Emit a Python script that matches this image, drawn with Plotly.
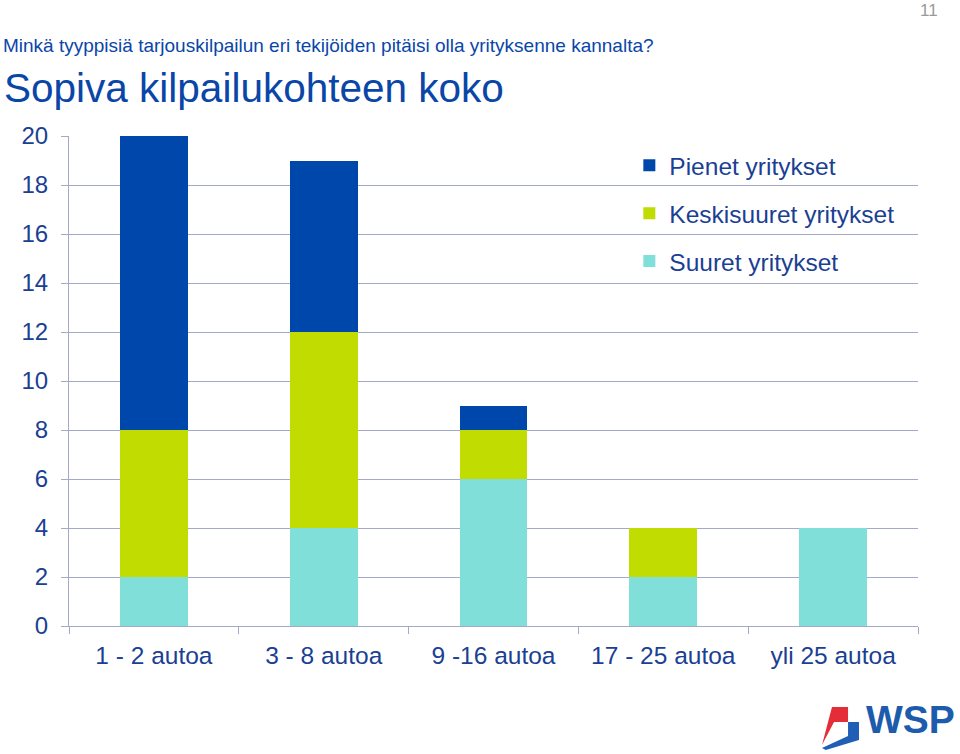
import plotly.graph_objects as go

categories = ['1 - 2 autoa', '3 - 8 autoa', '9 -16 autoa', '17 - 25 autoa', 'yli 25 autoa']
suuret = [2, 4, 6, 2, 4]
keskisuuret = [6, 8, 2, 2, 0]
pienet = [12, 7, 1, 0, 0]

# (name, values, colour, legend rank) - stacked bottom to top
series = [
    ('Suuret yritykset', suuret, '#80dfd8', 3),
    ('Keskisuuret yritykset', keskisuuret, '#c0dc00', 2),
    ('Pienet yritykset', pienet, '#0047ab', 1),
]

text_blue = '#1b3f93'
title_blue = '#0a46a8'
grid_col = '#a3aac8'

fig = go.Figure()
for i, (name, vals, col, rank) in enumerate(series):
    fig.add_trace(go.Bar(x=categories, y=vals, name=name, marker_color=col,
                         marker_line_width=0, legendgroup='g%d' % i, legendrank=rank))

fig.update_layout(
    barmode='stack', bargap=0.6,
    width=960, height=754,
    margin=dict(l=69, r=42, t=136, b=128),
    plot_bgcolor='white', paper_bgcolor='white',
    font=dict(family='Arial, Liberation Sans, sans-serif', color=text_blue, size=23),
    legend=dict(x=0.66, y=0.986, xanchor='left', yanchor='top',
                traceorder='grouped', tracegroupgap=13,
                bgcolor='rgba(0,0,0,0)', font=dict(size=24.5, color=text_blue)),
    showlegend=True,
)
fig.update_yaxes(range=[0, 20], dtick=2, showgrid=True, gridcolor=grid_col, gridwidth=1,
                 showline=True, linecolor=grid_col, ticks='outside', ticklen=7,
                 tickcolor=grid_col, zeroline=False, tickfont=dict(size=24),
                 ticklabelstandoff=8)
fig.update_xaxes(showline=True, linecolor=grid_col, ticks='outside', ticklen=7,
                 tickcolor=grid_col, tickson='boundaries', tickfont=dict(size=24.5),
                 ticklabelstandoff=8)

# white panel behind legend, covering grid
fig.add_shape(type='rect', xref='paper', yref='paper', x0=0.631, x1=1.0, y0=0.64, y1=0.99,
              fillcolor='white', line_width=0, layer='between')

fig.add_annotation(text='Minkä tyyppisiä tarjouskilpailun eri tekijöiden pitäisi olla yrityksenne kannalta?',
                   xref='paper', yref='paper', x=-0.0801, y=1.1857, xanchor='left', yanchor='middle',
                   showarrow=False, font=dict(family='Arial, Liberation Sans', size=19, color=title_blue))
fig.add_annotation(text='Sopiva kilpailukohteen koko', xref='paper', yref='paper', x=-0.0789, y=1.098,
                   xanchor='left', yanchor='middle', showarrow=False,
                   font=dict(family='Arial, Liberation Sans', size=40.5, color=title_blue))
fig.add_annotation(text='11', xref='paper', yref='paper', x=1.013, y=1.2571, xanchor='center',
                   yanchor='middle', showarrow=False,
                   font=dict(family='Arial, Liberation Sans', size=17, color='#9a9a9a'))

# WSP logo approximation
fig.add_annotation(text='<b>WSP</b>', xref='paper', yref='paper', x=0.9906, y=-0.1918, xanchor='center',
                   yanchor='middle', showarrow=False,
                   font=dict(family='Arial, Liberation Sans', size=39, color='#1d5cac'))
fig.add_shape(type='path', xref='paper', yref='paper',
              path='M 0.8987,-0.1653 L 0.9176,-0.1653 L 0.9176,-0.1959 L 0.9011,-0.1959 L 0.8869,-0.2429 Z',
              fillcolor='#e52d3a', line_width=0)
fig.add_shape(type='path', xref='paper', yref='paper',
              path='M 0.9176,-0.1959 L 0.9305,-0.1959 L 0.9305,-0.2327 L 0.8914,-0.2531 L 0.8869,-0.2490 L 0.9176,-0.2245 Z',
              fillcolor='#1f5fb5', line_width=0)

# drop the page's default 8px body margin so the figure sits at the window corner
fig.write_html('out.html', config={'displayModeBar': False},
               post_script="document.body.style.margin='0px';")
